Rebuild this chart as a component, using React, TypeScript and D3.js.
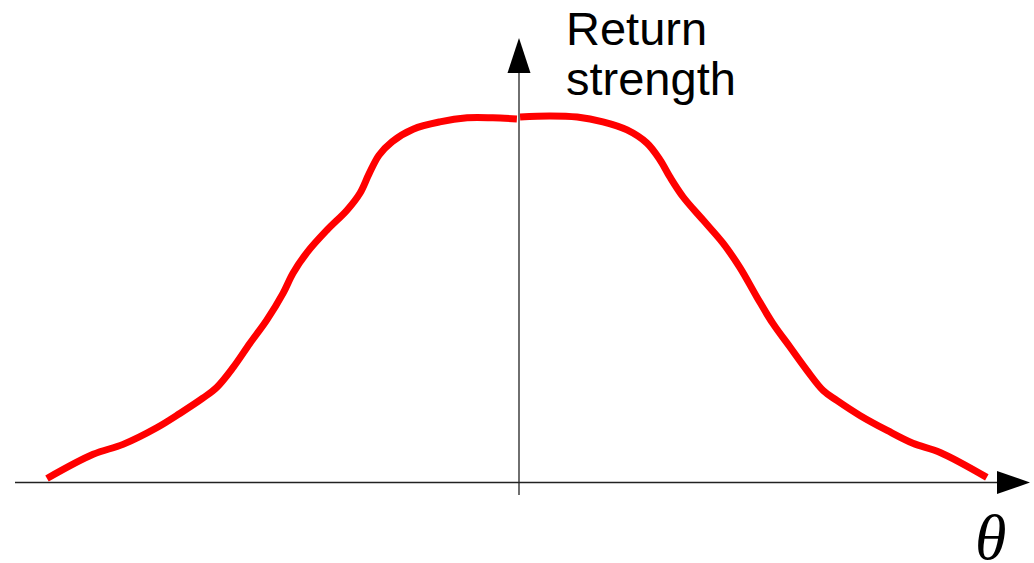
import React from "react";
import * as d3 from "d3";

// Beam pattern: return strength against look angle θ (degrees), left and right lobes
const leftTheta = [-90, -81.2, -75.5, -69.0, -64.6, -60.3, -57.6, -54.5, -51.3, -48.1, -45.0, -43.1, -40.4, -36.6, -32.8, -30.3, -28.6, -26.7, -24.2, -20.2, -15.1, -9.9, -5.0, -0.4];
const leftStrength = [0.011, 0.077, 0.104, 0.150, 0.189, 0.230, 0.260, 0.314, 0.380, 0.443, 0.516, 0.571, 0.628, 0.689, 0.743, 0.790, 0.842, 0.893, 0.930, 0.964, 0.984, 0.995, 0.995, 0.992];

const rightTheta = [0.2, 5.9, 11.1, 16.0, 20.6, 24.4, 26.9, 28.8, 31.3, 35.1, 38.9, 42.1, 45.4, 48.4, 51.7, 54.9, 58.0, 60.6, 65.0, 70.2, 75.1, 80.3, 89.2];
const rightStrength = [0.997, 1.0, 0.997, 0.984, 0.962, 0.926, 0.880, 0.833, 0.779, 0.716, 0.653, 0.587, 0.505, 0.434, 0.369, 0.306, 0.251, 0.224, 0.183, 0.142, 0.107, 0.082, 0.014];

const yAxisLabel = ["Return", "strength"];
const xAxisLabel = "θ";

const W = 1034;
const H = 563;

export default function App() {
  const x = d3.scaleLinear().domain([-90, 90]).range([47, 991]);
  const y = d3.scaleLinear().domain([0, 1]).range([482.5, 116]);

  const line = d3
    .line<[number, number]>()
    .x((d) => x(d[0]))
    .y((d) => y(d[1]))
    .curve(d3.curveCatmullRom.alpha(0.5));

  const left: [number, number][] = leftTheta.map((t, i) => [t, leftStrength[i]]);
  const right: [number, number][] = rightTheta.map((t, i) => [t, rightStrength[i]]);

  const x0 = x(0);
  const y0 = y(0);
  const axisColor = "#222";

  // axis extents
  const xStart = 15;
  const xLineEnd = 998;
  const xTip = 1030;
  const yBottom = 495;
  const yLineEnd = 72;
  const yTip = 38;
  const head = 11.5;

  return (
    <svg
      width={W}
      height={H}
      style={{ position: "absolute", left: 0, top: 0, background: "#fff" }}
    >
      <path d={line(left) || ""} fill="none" stroke="#ff0000" strokeWidth={7} />
      <path d={line(right) || ""} fill="none" stroke="#ff0000" strokeWidth={7} />

      {/* horizontal axis */}
      <line x1={xStart} y1={y0} x2={xLineEnd} y2={y0} stroke={axisColor} strokeWidth={1.3} />
      <polygon
        points={`${xLineEnd - 1},${y0 - head} ${xTip},${y0} ${xLineEnd - 1},${y0 + head}`}
        fill="#000"
      />

      {/* vertical axis */}
      <line x1={x0} y1={yBottom} x2={x0} y2={yLineEnd} stroke={axisColor} strokeWidth={1.3} />
      <polygon
        points={`${x0 - head},${yLineEnd + 1} ${x0},${yTip} ${x0 + head},${yLineEnd + 1}`}
        fill="#000"
      />

      <text
        fontFamily="'Liberation Sans', Arial, sans-serif"
        fontSize={47}
        fill="#000"
      >
        <tspan x={566} y={45}>{yAxisLabel[0]}</tspan>
        <tspan x={566} y={95}>{yAxisLabel[1]}</tspan>
      </text>

      <text
        x={975}
        y={559}
        fontFamily="'Liberation Serif', 'Times New Roman', serif"
        fontStyle="italic"
        fontSize={64}
        fill="#000"
      >
        {xAxisLabel}
      </text>
    </svg>
  );
}
